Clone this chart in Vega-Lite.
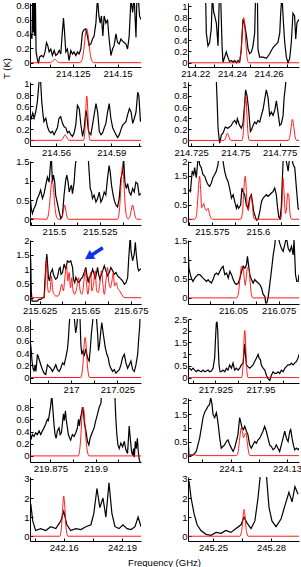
{
"$schema": "https://vega.github.io/schema/vega-lite/v6.json",
"padding": {"left": 1, "top": 0, "right": 2, "bottom": 0},
"background": "white",
"config": {
 "view": {"stroke": null},
 "axis": {"grid": false, "domainColor": "black", "tickColor": "black", "labelColor": "black", "labelFont": "Liberation Sans", "labelFontSize": 9.5, "tickSize": -3, "domainWidth": 1, "tickWidth": 1, "labelPadding": 4, "titleFont": "Liberation Sans", "titleFontSize": 9.5, "titleFontWeight": "normal", "titleColor": "black"},
 "axisX": {"labelFlush": false, "labelOverlap": false},
 "axisY": {"labelOverlap": false}
},
"datasets": {
"o1": [{"f":214.1011,"T":0.30},{"f":214.1017,"T":0.40},{"f":214.1022,"T":0.33},{"f":214.1026,"T":0.9},{"f":214.1030,"T":0.42},{"f":214.1034,"T":0.9},{"f":214.1037,"T":0.37},{"f":214.1041,"T":0.9},{"f":214.1045,"T":0.15},{"f":214.1052,"T":0.05},{"f":214.1058,"T":-0.01},{"f":214.1065,"T":0.08},{"f":214.1075,"T":0.10},{"f":214.1086,"T":0.08},{"f":214.1095,"T":0.15},{"f":214.1103,"T":0.28},{"f":214.1110,"T":0.24},{"f":214.1118,"T":0.15},{"f":214.1127,"T":0.19},{"f":214.1136,"T":0.10},{"f":214.1146,"T":0.17},{"f":214.1155,"T":0.10},{"f":214.1164,"T":0.12},{"f":214.1174,"T":0.17},{"f":214.1183,"T":0.12},{"f":214.1190,"T":0.37},{"f":214.1198,"T":0.62},{"f":214.1203,"T":0.46},{"f":214.1211,"T":0.15},{"f":214.1220,"T":0.19},{"f":214.1229,"T":0.03},{"f":214.1239,"T":0.17},{"f":214.1248,"T":0.12},{"f":214.1257,"T":0.15},{"f":214.1267,"T":0.10},{"f":214.1276,"T":0.15},{"f":214.1285,"T":0.12},{"f":214.1295,"T":0.19},{"f":214.1304,"T":0.42},{"f":214.1313,"T":0.46},{"f":214.1323,"T":0.47},{"f":214.1332,"T":0.37},{"f":214.1341,"T":0.24},{"f":214.1351,"T":0.26},{"f":214.1360,"T":0.33},{"f":214.1369,"T":0.37},{"f":214.1379,"T":0.55},{"f":214.1388,"T":0.9},{"f":214.1396,"T":0.65},{"f":214.1403,"T":0.55},{"f":214.1410,"T":0.65},{"f":214.1418,"T":0.37},{"f":214.1425,"T":0.65},{"f":214.1435,"T":0.55},{"f":214.1444,"T":0.6},{"f":214.1453,"T":0.33},{"f":214.1463,"T":0.10},{"f":214.1472,"T":0.19},{"f":214.1481,"T":0.24},{"f":214.1491,"T":0.40},{"f":214.1500,"T":0.28},{"f":214.1509,"T":0.26},{"f":214.1519,"T":0.33},{"f":214.1528,"T":0.30},{"f":214.1537,"T":0.28},{"f":214.1547,"T":0.26},{"f":214.1556,"T":0.19},{"f":214.1565,"T":0.37},{"f":214.1575,"T":0.9},{"f":214.1584,"T":0.7},{"f":214.1593,"T":0.9},{"f":214.1603,"T":0.35},{"f":214.1608,"T":0.9},{"f":214.1616,"T":0.9},{"f":214.1623,"T":0.65},{"f":214.1631,"T":0.6}],
"m1": [{"f":214.1011,"T":0},{"f":214.1125,"T":0},{"f":214.1131,"T":0.007},{"f":214.1140,"T":0.03},{"f":214.1149,"T":0.05},{"f":214.1158,"T":0.03},{"f":214.1167,"T":0.007},{"f":214.1175,"T":0},{"f":214.1290,"T":0},{"f":214.1298,"T":0.02},{"f":214.1304,"T":0.063},{"f":214.1310,"T":0.15},{"f":214.1316,"T":0.29},{"f":214.1322,"T":0.41},{"f":214.1328,"T":0.47},{"f":214.1334,"T":0.41},{"f":214.1340,"T":0.29},{"f":214.1346,"T":0.15},{"f":214.1352,"T":0.063},{"f":214.1358,"T":0.02},{"f":214.1366,"T":0},{"f":214.1631,"T":0}],
"o2": [{"f":214.2160,"T":1.5},{"f":214.2251,"T":1.5},{"f":214.2256,"T":1.2},{"f":214.2260,"T":0.53},{"f":214.2269,"T":0.30},{"f":214.2278,"T":0.36},{"f":214.2287,"T":0.60},{"f":214.2293,"T":1.2},{"f":214.2300,"T":0.9},{"f":214.2306,"T":0.83},{"f":214.2315,"T":0.70},{"f":214.2324,"T":0.30},{"f":214.2331,"T":1.2},{"f":214.2338,"T":1.2},{"f":214.2346,"T":0.30},{"f":214.2351,"T":0.01},{"f":214.2360,"T":0.10},{"f":214.2369,"T":0.19},{"f":214.2378,"T":0.10},{"f":214.2387,"T":0.02},{"f":214.2397,"T":0.04},{"f":214.2406,"T":0.01},{"f":214.2415,"T":0.04},{"f":214.2424,"T":0.0},{"f":214.2433,"T":0.04},{"f":214.2442,"T":0.01},{"f":214.2451,"T":0.24},{"f":214.2460,"T":0.77},{"f":214.2469,"T":0.68},{"f":214.2479,"T":0.48},{"f":214.2488,"T":0.24},{"f":214.2497,"T":0.16},{"f":214.2506,"T":0.19},{"f":214.2515,"T":0.30},{"f":214.2524,"T":0.53},{"f":214.2529,"T":1.2},{"f":214.2539,"T":1.2},{"f":214.2542,"T":0.24},{"f":214.2551,"T":0.10},{"f":214.2570,"T":0.10},{"f":214.2588,"T":0.08},{"f":214.2606,"T":0.16},{"f":214.2624,"T":0.27},{"f":214.2642,"T":0.33},{"f":214.2651,"T":0.36},{"f":214.2661,"T":0.53},{"f":214.2666,"T":0.88},{"f":214.2673,"T":1.2},{"f":214.2681,"T":0.71},{"f":214.2688,"T":0.36},{"f":214.2697,"T":0.10},{"f":214.2706,"T":0.0},{"f":214.2715,"T":0.07},{"f":214.2724,"T":0.36},{"f":214.2733,"T":0.88},{"f":214.2742,"T":0.83},{"f":214.2748,"T":0.42},{"f":214.2755,"T":0.71},{"f":214.2766,"T":0.77}],
"m2": [{"f":214.2160,"T":0},{"f":214.2437,"T":0},{"f":214.2446,"T":0.11},{"f":214.2451,"T":0.26},{"f":214.2455,"T":0.49},{"f":214.2460,"T":0.7},{"f":214.2464,"T":0.8},{"f":214.2469,"T":0.7},{"f":214.2473,"T":0.49},{"f":214.2478,"T":0.26},{"f":214.2482,"T":0.11},{"f":214.2491,"T":0},{"f":214.2766,"T":0}],
"o3": [{"f":214.5458,"T":0.45},{"f":214.5465,"T":0.39},{"f":214.5473,"T":0.48},{"f":214.5480,"T":0.39},{"f":214.5489,"T":0.5},{"f":214.5498,"T":0.68},{"f":214.5504,"T":0.91},{"f":214.5509,"T":1.1},{"f":214.5516,"T":1.03},{"f":214.5522,"T":0.68},{"f":214.5529,"T":0.45},{"f":214.5534,"T":0.33},{"f":214.5544,"T":0.39},{"f":214.5553,"T":0.24},{"f":214.5562,"T":0.16},{"f":214.5571,"T":0.13},{"f":214.5580,"T":0.16},{"f":214.5589,"T":0.1},{"f":214.5598,"T":0.16},{"f":214.5607,"T":0.22},{"f":214.5616,"T":0.39},{"f":214.5625,"T":0.42},{"f":214.5635,"T":0.3},{"f":214.5644,"T":0.24},{"f":214.5653,"T":0.22},{"f":214.5662,"T":0.13},{"f":214.5671,"T":0.16},{"f":214.5680,"T":0.1},{"f":214.5689,"T":0.07},{"f":214.5698,"T":0.13},{"f":214.5707,"T":0.27},{"f":214.5716,"T":0.62},{"f":214.5726,"T":0.56},{"f":214.5735,"T":0.27},{"f":214.5744,"T":0.07},{"f":214.5753,"T":0.22},{"f":214.5762,"T":0.53},{"f":214.5767,"T":0.45},{"f":214.5775,"T":0.19},{"f":214.5780,"T":0.13},{"f":214.5789,"T":0.1},{"f":214.5798,"T":0.27},{"f":214.5807,"T":0.45},{"f":214.5817,"T":0.65},{"f":214.5826,"T":0.5},{"f":214.5835,"T":0.16},{"f":214.5844,"T":0.1},{"f":214.5853,"T":0.13},{"f":214.5862,"T":0.22},{"f":214.5871,"T":0.3},{"f":214.5880,"T":0.5},{"f":214.5889,"T":0.65},{"f":214.5898,"T":0.39},{"f":214.5908,"T":0.22},{"f":214.5917,"T":0.16},{"f":214.5926,"T":0.1},{"f":214.5935,"T":0.05},{"f":214.5944,"T":0.1},{"f":214.5953,"T":0.19},{"f":214.5962,"T":0.27},{"f":214.5971,"T":0.3},{"f":214.5980,"T":0.33},{"f":214.5989,"T":0.45},{"f":214.5999,"T":0.56},{"f":214.6008,"T":0.5},{"f":214.6017,"T":0.3},{"f":214.6026,"T":0.39},{"f":214.6035,"T":0.5},{"f":214.6044,"T":0.85},{"f":214.6050,"T":0.8},{"f":214.6059,"T":0.33},{"f":214.6062,"T":0.39}],
"m3": [{"f":214.5458,"T":0},{"f":214.5625,"T":0},{"f":214.5633,"T":0.014},{"f":214.5641,"T":0.06},{"f":214.5645,"T":0.08},{"f":214.5649,"T":0.1},{"f":214.5653,"T":0.08},{"f":214.5657,"T":0.06},{"f":214.5665,"T":0.014},{"f":214.5673,"T":0},{"f":214.5749,"T":0},{"f":214.5755,"T":0.1},{"f":214.5758,"T":0.25},{"f":214.5761,"T":0.48},{"f":214.5764,"T":0.69},{"f":214.5767,"T":0.78},{"f":214.5770,"T":0.69},{"f":214.5773,"T":0.48},{"f":214.5776,"T":0.25},{"f":214.5779,"T":0.1},{"f":214.5785,"T":0},{"f":214.6062,"T":0}],
"o4": [{"f":214.7232,"T":1.5},{"f":214.7383,"T":1.5},{"f":214.7392,"T":1.1},{"f":214.7398,"T":0.6},{"f":214.7402,"T":0.22},{"f":214.7411,"T":-0.05},{"f":214.7421,"T":0.1},{"f":214.7430,"T":0.13},{"f":214.7443,"T":0.24},{"f":214.7458,"T":0.22},{"f":214.7477,"T":0.27},{"f":214.7487,"T":0.33},{"f":214.7496,"T":0.36},{"f":214.7506,"T":0.30},{"f":214.7511,"T":0.39},{"f":214.7524,"T":0.27},{"f":214.7534,"T":0.22},{"f":214.7543,"T":0.30},{"f":214.7553,"T":0.68},{"f":214.7558,"T":0.91},{"f":214.7566,"T":0.80},{"f":214.7575,"T":0.56},{"f":214.7585,"T":0.16},{"f":214.7591,"T":0.19},{"f":214.7600,"T":0.27},{"f":214.7609,"T":0.33},{"f":214.7619,"T":0.30},{"f":214.7628,"T":0.36},{"f":214.7638,"T":0.33},{"f":214.7647,"T":0.45},{"f":214.7657,"T":0.56},{"f":214.7666,"T":0.74},{"f":214.7675,"T":0.91},{"f":214.7685,"T":0.77},{"f":214.7694,"T":0.45},{"f":214.7704,"T":0.51},{"f":214.7713,"T":0.45},{"f":214.7722,"T":0.53},{"f":214.7732,"T":0.71},{"f":214.7741,"T":0.51},{"f":214.7751,"T":0.27},{"f":214.7760,"T":0.30},{"f":214.7770,"T":0.45},{"f":214.7775,"T":0.74},{"f":214.7783,"T":0.97},{"f":214.7789,"T":1.2},{"f":214.7860,"T":1.5}],
"m4": [{"f":214.7232,"T":0},{"f":214.7434,"T":0},{"f":214.7441,"T":0.02},{"f":214.7448,"T":0.08},{"f":214.7455,"T":0.13},{"f":214.7462,"T":0.08},{"f":214.7469,"T":0.02},{"f":214.7476,"T":0},{"f":214.7537,"T":0},{"f":214.7544,"T":0.11},{"f":214.75475,"T":0.26},{"f":214.7551,"T":0.49},{"f":214.75545,"T":0.7},{"f":214.7558,"T":0.8},{"f":214.75615,"T":0.7},{"f":214.7565,"T":0.49},{"f":214.75685,"T":0.26},{"f":214.7572,"T":0.11},{"f":214.7579,"T":0},{"f":214.7799,"T":0},{"f":214.7807,"T":0.05},{"f":214.7815,"T":0.23},{"f":214.7823,"T":0.38},{"f":214.7831,"T":0.23},{"f":214.7839,"T":0.05},{"f":214.7847,"T":0},{"f":214.7860,"T":0}],
"o5": [{"f":215.4869,"T":0.67},{"f":215.4876,"T":0.28},{"f":215.4882,"T":0.15},{"f":215.4891,"T":0.28},{"f":215.4900,"T":0.37},{"f":215.4909,"T":0.54},{"f":215.4918,"T":0.63},{"f":215.4927,"T":0.76},{"f":215.4937,"T":0.54},{"f":215.4946,"T":0.67},{"f":215.4955,"T":0.89},{"f":215.4964,"T":1.1},{"f":215.4973,"T":0.97},{"f":215.4982,"T":1.5},{"f":215.4986,"T":1.6},{"f":215.4991,"T":0.97},{"f":215.4997,"T":1.15},{"f":215.5004,"T":0.97},{"f":215.5009,"T":0.63},{"f":215.5019,"T":0.41},{"f":215.5028,"T":0.19},{"f":215.5037,"T":0.02},{"f":215.5046,"T":0.1},{"f":215.5055,"T":0.63},{"f":215.5064,"T":1.02},{"f":215.5070,"T":1.15},{"f":215.5077,"T":0.97},{"f":215.5083,"T":0.71},{"f":215.5088,"T":0.8},{"f":215.5095,"T":0.89},{"f":215.5101,"T":0.67},{"f":215.5110,"T":0.97},{"f":215.5115,"T":1.32},{"f":215.5119,"T":1.5},{"f":215.5124,"T":1.6},{"f":215.5187,"T":1.6},{"f":215.5192,"T":1.23},{"f":215.5198,"T":0.8},{"f":215.5205,"T":0.71},{"f":215.5210,"T":0.54},{"f":215.5219,"T":0.63},{"f":215.5229,"T":0.45},{"f":215.5238,"T":0.54},{"f":215.5247,"T":0.71},{"f":215.5256,"T":0.45},{"f":215.5265,"T":0.54},{"f":215.5274,"T":0.71},{"f":215.5283,"T":0.63},{"f":215.5292,"T":1.06},{"f":215.5301,"T":1.4},{"f":215.5307,"T":1.23},{"f":215.5314,"T":0.89},{"f":215.5323,"T":0.63},{"f":215.5329,"T":0.5},{"f":215.5338,"T":0.37},{"f":215.5347,"T":0.32},{"f":215.5356,"T":0.54},{"f":215.5365,"T":1.06},{"f":215.5374,"T":1.23},{"f":215.5380,"T":1.6},{"f":215.5387,"T":0.97},{"f":215.5395,"T":0.8},{"f":215.5402,"T":0.93},{"f":215.5411,"T":0.71},{"f":215.5420,"T":0.63},{"f":215.5429,"T":0.8},{"f":215.5438,"T":0.71},{"f":215.5447,"T":0.97},{"f":215.5456,"T":0.93},{"f":215.5465,"T":0.63},{"f":215.5475,"T":0.67}],
"m5": [{"f":215.4869,"T":0.02},{"f":215.4960,"T":0},{"f":215.4970,"T":0.14},{"f":215.4975,"T":0.33},{"f":215.4980,"T":0.62},{"f":215.4985,"T":0.9},{"f":215.4990,"T":1.02},{"f":215.4995,"T":0.9},{"f":215.5000,"T":0.62},{"f":215.5005,"T":0.33},{"f":215.5010,"T":0.14},{"f":215.5020,"T":0.01},{"f":215.5037,"T":0},{"f":215.5044,"T":0.05},{"f":215.5051,"T":0.22},{"f":215.5058,"T":0.37},{"f":215.5065,"T":0.22},{"f":215.5072,"T":0.05},{"f":215.5079,"T":0},{"f":215.5347,"T":0},{"f":215.5356,"T":0.19},{"f":215.53605,"T":0.45},{"f":215.5365,"T":0.84},{"f":215.53695,"T":1.2},{"f":215.5374,"T":1.37},{"f":215.53785,"T":1.2},{"f":215.5383,"T":0.84},{"f":215.53875,"T":0.45},{"f":215.5392,"T":0.19},{"f":215.5401,"T":0.02},{"f":215.5405,"T":0.01},{"f":215.5413,"T":0.05},{"f":215.5421,"T":0.22},{"f":215.5429,"T":0.37},{"f":215.5437,"T":0.22},{"f":215.5445,"T":0.05},{"f":215.5453,"T":0},{"f":215.5475,"T":0}],
"o6": [{"f":215.5620,"T":0.96},{"f":215.5625,"T":1.02},{"f":215.5633,"T":0.96},{"f":215.5638,"T":1.32},{"f":215.5643,"T":1.67},{"f":215.5651,"T":1.55},{"f":215.5656,"T":1.79},{"f":215.5665,"T":1.44},{"f":215.5674,"T":2.08},{"f":215.5678,"T":2.2},{"f":215.5683,"T":1.9},{"f":215.5692,"T":1.79},{"f":215.5701,"T":1.55},{"f":215.5711,"T":1.49},{"f":215.5720,"T":1.32},{"f":215.5729,"T":1.2},{"f":215.5738,"T":1.14},{"f":215.5747,"T":1.26},{"f":215.5755,"T":1.44},{"f":215.5765,"T":1.55},{"f":215.5774,"T":1.67},{"f":215.5783,"T":1.9},{"f":215.5788,"T":2.2},{"f":215.5801,"T":2.2},{"f":215.5810,"T":2.02},{"f":215.5819,"T":1.67},{"f":215.5828,"T":1.44},{"f":215.5837,"T":1.32},{"f":215.5846,"T":1.08},{"f":215.5856,"T":0.73},{"f":215.5865,"T":0.85},{"f":215.5874,"T":0.61},{"f":215.5883,"T":0.38},{"f":215.5888,"T":0.49},{"f":215.5895,"T":0.38},{"f":215.5901,"T":0.44},{"f":215.5906,"T":0.49},{"f":215.5913,"T":1.08},{"f":215.5919,"T":0.96},{"f":215.5928,"T":0.85},{"f":215.5937,"T":0.49},{"f":215.5946,"T":0.38},{"f":215.5955,"T":0.73},{"f":215.5964,"T":0.85},{"f":215.5970,"T":0.61},{"f":215.5977,"T":0.26},{"f":215.5986,"T":0.08},{"f":215.5993,"T":-0.04},{"f":215.6001,"T":0},{"f":215.6010,"T":0.26},{"f":215.6019,"T":0.61},{"f":215.6028,"T":0.73},{"f":215.6037,"T":0.79},{"f":215.6046,"T":0.85},{"f":215.6055,"T":0.79},{"f":215.6064,"T":0.85},{"f":215.6073,"T":0.91},{"f":215.6082,"T":0.96},{"f":215.6091,"T":1.08},{"f":215.6100,"T":0.85},{"f":215.6105,"T":0.49},{"f":215.6113,"T":0.08},{"f":215.6120,"T":0.02},{"f":215.6127,"T":0.44},{"f":215.6132,"T":1.32},{"f":215.6138,"T":2.2},{"f":215.6145,"T":2.2},{"f":215.6154,"T":2.02},{"f":215.6164,"T":1.67},{"f":215.6173,"T":2.2},{"f":215.6182,"T":2.2},{"f":215.6191,"T":1.9},{"f":215.6200,"T":1.79},{"f":215.6209,"T":1.08},{"f":215.6218,"T":0.38},{"f":215.6223,"T":0.32}],
"m6": [{"f":215.5620,"T":0},{"f":215.5656,"T":0},{"f":215.5665,"T":0.1},{"f":215.5672,"T":0.6},{"f":215.5678,"T":1.2},{"f":215.5683,"T":1.49},{"f":215.5689,"T":1.0},{"f":215.5694,"T":0.4},{"f":215.5700,"T":0.45},{"f":215.5705,"T":0.55},{"f":215.5711,"T":0.4},{"f":215.5720,"T":0.3},{"f":215.5729,"T":0.38},{"f":215.5738,"T":0.15},{"f":215.5747,"T":0.02},{"f":215.5755,"T":0},{"f":215.5906,"T":0},{"f":215.5917,"T":0.3},{"f":215.5924,"T":1.1},{"f":215.5931,"T":1.49},{"f":215.5937,"T":1.0},{"f":215.5942,"T":0.4},{"f":215.5948,"T":0.3},{"f":215.5955,"T":0.6},{"f":215.5962,"T":0.85},{"f":215.5968,"T":0.6},{"f":215.5975,"T":0.15},{"f":215.5982,"T":0},{"f":215.6124,"T":0},{"f":215.6131,"T":0.6},{"f":215.6136,"T":1.43},{"f":215.6142,"T":0.9},{"f":215.6149,"T":0.2},{"f":215.6154,"T":0.3},{"f":215.6162,"T":0.9},{"f":215.6167,"T":0.85},{"f":215.6174,"T":0.2},{"f":215.6182,"T":0},{"f":215.6223,"T":0}],
"o7": [{"f":215.6197,"T":1.65},{"f":215.6201,"T":1.29},{"f":215.6204,"T":0.24},{"f":215.6208,"T":-0.12},{"f":215.6219,"T":-0.12},{"f":215.6237,"T":-0.12},{"f":215.6246,"T":-0.06},{"f":215.6256,"T":-0.06},{"f":215.6265,"T":0},{"f":215.6274,"T":0},{"f":215.6279,"T":0.59},{"f":215.6285,"T":1.24},{"f":215.6289,"T":1.53},{"f":215.6292,"T":1.29},{"f":215.6298,"T":0.71},{"f":215.6303,"T":0.59},{"f":215.6311,"T":0.88},{"f":215.6320,"T":1.0},{"f":215.6325,"T":0.82},{"f":215.6333,"T":0.71},{"f":215.6338,"T":0.65},{"f":215.6347,"T":0.71},{"f":215.6356,"T":1.0},{"f":215.6362,"T":1.06},{"f":215.6367,"T":0.82},{"f":215.6375,"T":0.88},{"f":215.6384,"T":1.18},{"f":215.6393,"T":1.0},{"f":215.6402,"T":1.29},{"f":215.6411,"T":1.24},{"f":215.6420,"T":1.29},{"f":215.6430,"T":1.06},{"f":215.6435,"T":0.65},{"f":215.6442,"T":0.53},{"f":215.6448,"T":0.71},{"f":215.6457,"T":0.59},{"f":215.6466,"T":0.53},{"f":215.6475,"T":0.65},{"f":215.6484,"T":0.71},{"f":215.6494,"T":0.88},{"f":215.6503,"T":1.06},{"f":215.6508,"T":0.82},{"f":215.6516,"T":0.53},{"f":215.6521,"T":0.71},{"f":215.6530,"T":0.76},{"f":215.6540,"T":1.0},{"f":215.6549,"T":0.82},{"f":215.6554,"T":0.65},{"f":215.6562,"T":0.88},{"f":215.6567,"T":1.06},{"f":215.6573,"T":0.82},{"f":215.6580,"T":0.65},{"f":215.6585,"T":0.76},{"f":215.6595,"T":0.94},{"f":215.6604,"T":1.12},{"f":215.6613,"T":0.94},{"f":215.6622,"T":0.76},{"f":215.6631,"T":0.88},{"f":215.6640,"T":1.06},{"f":215.6650,"T":0.94},{"f":215.6659,"T":0.82},{"f":215.6668,"T":0.88},{"f":215.6677,"T":0.76},{"f":215.6686,"T":0.71},{"f":215.6695,"T":0.65},{"f":215.6704,"T":0.59},{"f":215.6714,"T":0.47},{"f":215.6723,"T":0.53},{"f":215.6732,"T":0.71},{"f":215.6737,"T":1.29},{"f":215.6743,"T":1.88},{"f":215.6746,"T":2.2},{"f":215.6750,"T":1.65},{"f":215.6759,"T":1.29},{"f":215.6768,"T":1.53},{"f":215.6774,"T":1.94},{"f":215.6779,"T":1.53},{"f":215.6787,"T":1.06},{"f":215.6792,"T":0.94},{"f":215.6801,"T":1.0},{"f":215.6805,"T":1.0}],
"m7": [{"f":215.6197,"T":0},{"f":215.6274,"T":0},{"f":215.6279,"T":0.35},{"f":215.6287,"T":1.35},{"f":215.6294,"T":0.35},{"f":215.6300,"T":0.18},{"f":215.6307,"T":0.24},{"f":215.6314,"T":0.76},{"f":215.6322,"T":0.24},{"f":215.6329,"T":0.12},{"f":215.6338,"T":0.06},{"f":215.6351,"T":0.06},{"f":215.6362,"T":0.24},{"f":215.6371,"T":0.47},{"f":215.6380,"T":0.24},{"f":215.6388,"T":0.7},{"f":215.6397,"T":1.12},{"f":215.6404,"T":0.59},{"f":215.6411,"T":0.88},{"f":215.6419,"T":0.35},{"f":215.6426,"T":0.7},{"f":215.6433,"T":0.24},{"f":215.6442,"T":0.12},{"f":215.6453,"T":0.35},{"f":215.6463,"T":0.7},{"f":215.6472,"T":0.24},{"f":215.6481,"T":0.12},{"f":215.6490,"T":0.41},{"f":215.6499,"T":1.0},{"f":215.6507,"T":0.47},{"f":215.6514,"T":0.12},{"f":215.6521,"T":0.47},{"f":215.6529,"T":0.88},{"f":215.6536,"T":0.24},{"f":215.6545,"T":0.47},{"f":215.6554,"T":0.94},{"f":215.6562,"T":0.24},{"f":215.6571,"T":0.18},{"f":215.6580,"T":0.53},{"f":215.6589,"T":0.94},{"f":215.6596,"T":0.47},{"f":215.6604,"T":0.12},{"f":215.6613,"T":0.59},{"f":215.6622,"T":1.06},{"f":215.6629,"T":0.53},{"f":215.6637,"T":0.35},{"f":215.6646,"T":0.59},{"f":215.6653,"T":0.88},{"f":215.6660,"T":0.41},{"f":215.6670,"T":0.53},{"f":215.6677,"T":0.35},{"f":215.6688,"T":0.24},{"f":215.6699,"T":0.12},{"f":215.6710,"T":0.02},{"f":215.6723,"T":0},{"f":215.6805,"T":0}],
"o8": [{"f":216.0254,"T":1.48},{"f":216.0259,"T":0.78},{"f":216.0265,"T":0.65},{"f":216.0272,"T":0.52},{"f":216.0281,"T":0.43},{"f":216.0291,"T":0.52},{"f":216.0300,"T":0.57},{"f":216.0309,"T":0.61},{"f":216.0318,"T":0.61},{"f":216.0327,"T":0.57},{"f":216.0336,"T":0.52},{"f":216.0345,"T":0.48},{"f":216.0355,"T":0.43},{"f":216.0364,"T":0.48},{"f":216.0373,"T":0.43},{"f":216.0382,"T":0.39},{"f":216.0391,"T":0.48},{"f":216.0400,"T":0.61},{"f":216.0410,"T":0.65},{"f":216.0419,"T":0.61},{"f":216.0428,"T":0.7},{"f":216.0437,"T":0.78},{"f":216.0446,"T":0.83},{"f":216.0455,"T":0.61},{"f":216.0465,"T":0.65},{"f":216.0474,"T":0.52},{"f":216.0483,"T":0.7},{"f":216.0492,"T":0.61},{"f":216.0501,"T":0.48},{"f":216.0510,"T":0.39},{"f":216.0519,"T":0.35},{"f":216.0529,"T":0.39},{"f":216.0538,"T":0.52},{"f":216.0547,"T":0.7},{"f":216.0556,"T":0.83},{"f":216.0565,"T":0.78},{"f":216.0574,"T":0.87},{"f":216.0579,"T":1.09},{"f":216.0585,"T":0.87},{"f":216.0592,"T":0.61},{"f":216.0601,"T":0.48},{"f":216.0610,"T":0.39},{"f":216.0619,"T":0.48},{"f":216.0629,"T":0.43},{"f":216.0638,"T":0.39},{"f":216.0647,"T":0.35},{"f":216.0656,"T":0.26},{"f":216.0665,"T":0.09},{"f":216.0674,"T":0.04},{"f":216.0679,"T":-0.13},{"f":216.0685,"T":-0.13},{"f":216.0692,"T":0},{"f":216.0701,"T":0.35},{"f":216.0710,"T":0.7},{"f":216.0720,"T":1.13},{"f":216.0729,"T":1.39},{"f":216.0732,"T":1.6},{"f":216.0747,"T":1.6},{"f":216.0756,"T":1.43},{"f":216.0765,"T":1.3},{"f":216.0774,"T":1.22},{"f":216.0783,"T":1.39},{"f":216.0792,"T":1.6},{"f":216.0802,"T":1.3},{"f":216.0811,"T":1.22},{"f":216.0820,"T":1.35},{"f":216.0829,"T":1.13},{"f":216.0834,"T":1.52},{"f":216.0842,"T":0.61},{"f":216.0849,"T":0.43},{"f":216.0856,"T":0.43},{"f":216.0861,"T":0.61}],
"m8": [{"f":216.0254,"T":0},{"f":216.0519,"T":0},{"f":216.0529,"T":0.1},{"f":216.0538,"T":0.5},{"f":216.0547,"T":0.83},{"f":216.0555,"T":0.8},{"f":216.0562,"T":0.5},{"f":216.0567,"T":0.33},{"f":216.0572,"T":0.5},{"f":216.0579,"T":0.8},{"f":216.0587,"T":0.78},{"f":216.0594,"T":0.4},{"f":216.0601,"T":0.08},{"f":216.0610,"T":0},{"f":216.0861,"T":0}],
"o9": [{"f":216.9779,"T":0.61},{"f":216.9784,"T":0.5},{"f":216.9790,"T":0.27},{"f":216.9795,"T":0.15},{"f":216.9801,"T":0.1},{"f":216.9806,"T":0.21},{"f":216.9811,"T":0.1},{"f":216.9819,"T":0.38},{"f":216.9828,"T":0.3},{"f":216.9837,"T":0.21},{"f":216.9846,"T":0.13},{"f":216.9855,"T":0.07},{"f":216.9864,"T":0.05},{"f":216.9873,"T":0.21},{"f":216.9882,"T":0.18},{"f":216.9891,"T":0.15},{"f":216.9900,"T":0.1},{"f":216.9909,"T":0.15},{"f":216.9918,"T":0.21},{"f":216.9927,"T":0.13},{"f":216.9936,"T":0.1},{"f":216.9945,"T":0.15},{"f":216.9954,"T":0.24},{"f":216.9963,"T":0.21},{"f":216.9972,"T":0.33},{"f":216.9981,"T":0.47},{"f":216.9986,"T":0.64},{"f":216.9991,"T":0.9},{"f":216.9997,"T":1.1},{"f":217.0013,"T":1.1},{"f":217.0020,"T":0.9},{"f":217.0025,"T":0.73},{"f":217.0031,"T":0.84},{"f":217.0038,"T":1.1},{"f":217.0047,"T":1.1},{"f":217.0053,"T":0.55},{"f":217.0058,"T":0.38},{"f":217.0065,"T":0.44},{"f":217.0071,"T":0.35},{"f":217.0080,"T":0.47},{"f":217.0085,"T":0.38},{"f":217.0092,"T":0.3},{"f":217.0098,"T":0.27},{"f":217.0103,"T":0.44},{"f":217.0107,"T":0.61},{"f":217.0110,"T":0.73},{"f":217.0116,"T":0.9},{"f":217.0121,"T":1.1},{"f":217.0134,"T":1.1},{"f":217.0143,"T":0.73},{"f":217.0148,"T":0.44},{"f":217.0154,"T":0.55},{"f":217.0161,"T":0.78},{"f":217.0166,"T":0.9},{"f":217.0173,"T":0.73},{"f":217.0179,"T":0.61},{"f":217.0184,"T":0.5},{"f":217.0193,"T":0.38},{"f":217.0200,"T":0.33},{"f":217.0207,"T":0.21},{"f":217.0215,"T":0.15},{"f":217.0224,"T":0.1},{"f":217.0233,"T":0.13},{"f":217.0242,"T":0.07},{"f":217.0251,"T":0.1},{"f":217.0260,"T":0.13},{"f":217.0269,"T":0.21},{"f":217.0278,"T":0.33},{"f":217.0287,"T":0.38},{"f":217.0296,"T":0.24},{"f":217.0305,"T":0.15},{"f":217.0314,"T":0.21},{"f":217.0323,"T":0.27},{"f":217.0332,"T":0.13},{"f":217.0341,"T":0.1},{"f":217.0350,"T":0.21},{"f":217.0359,"T":0.38},{"f":217.0364,"T":0.61},{"f":217.0370,"T":0.84},{"f":217.0373,"T":1.1},{"f":217.0377,"T":1.1}],
"m9": [{"f":216.9779,"T":0},{"f":217.0052,"T":0},{"f":217.0060,"T":0.09},{"f":217.0064,"T":0.21},{"f":217.0068,"T":0.4},{"f":217.0072,"T":0.58},{"f":217.0076,"T":0.66},{"f":217.0080,"T":0.58},{"f":217.0084,"T":0.4},{"f":217.0088,"T":0.21},{"f":217.0092,"T":0.09},{"f":217.0100,"T":0},{"f":217.0377,"T":0}],
"o10": [{"f":217.9098,"T":0.4},{"f":217.9107,"T":0.4},{"f":217.9117,"T":0.32},{"f":217.9126,"T":0.4},{"f":217.9135,"T":0.32},{"f":217.9144,"T":0.25},{"f":217.9154,"T":0.32},{"f":217.9163,"T":0.28},{"f":217.9172,"T":0.25},{"f":217.9181,"T":0.32},{"f":217.9191,"T":0.25},{"f":217.9200,"T":0.28},{"f":217.9209,"T":0.32},{"f":217.9218,"T":0.25},{"f":217.9228,"T":0.28},{"f":217.9237,"T":0.4},{"f":217.9246,"T":0.84},{"f":217.9250,"T":1.57},{"f":217.9255,"T":2.31},{"f":217.9259,"T":2.38},{"f":217.9263,"T":2.0},{"f":217.9266,"T":1.28},{"f":217.9270,"T":0.54},{"f":217.9276,"T":0.25},{"f":217.9283,"T":0.25},{"f":217.9292,"T":0.32},{"f":217.9302,"T":0.25},{"f":217.9311,"T":0.4},{"f":217.9320,"T":0.32},{"f":217.9329,"T":0.54},{"f":217.9339,"T":0.4},{"f":217.9348,"T":0.62},{"f":217.9357,"T":0.32},{"f":217.9366,"T":0.4},{"f":217.9376,"T":0.32},{"f":217.9385,"T":0.4},{"f":217.9394,"T":0.54},{"f":217.9404,"T":0.62},{"f":217.9409,"T":1.06},{"f":217.9413,"T":1.43},{"f":217.9417,"T":0.99},{"f":217.9422,"T":0.54},{"f":217.9431,"T":0.47},{"f":217.9441,"T":0.4},{"f":217.9450,"T":0.47},{"f":217.9459,"T":0.54},{"f":217.9468,"T":0.69},{"f":217.9478,"T":0.84},{"f":217.9487,"T":0.99},{"f":217.9492,"T":0.84},{"f":217.9500,"T":0.76},{"f":217.9505,"T":0.54},{"f":217.9515,"T":0.4},{"f":217.9524,"T":0.32},{"f":217.9533,"T":0.1},{"f":217.9542,"T":-0.04},{"f":217.9552,"T":-0.12},{"f":217.9561,"T":0.1},{"f":217.9570,"T":0.25},{"f":217.9579,"T":0.18},{"f":217.9589,"T":0.18},{"f":217.9598,"T":0.25},{"f":217.9607,"T":0.18},{"f":217.9616,"T":0.32},{"f":217.9626,"T":0.25},{"f":217.9635,"T":0.4},{"f":217.9644,"T":0.47},{"f":217.9653,"T":0.54},{"f":217.9663,"T":0.54},{"f":217.9672,"T":0.62},{"f":217.9681,"T":0.54},{"f":217.9690,"T":0.62},{"f":217.9700,"T":0.69},{"f":217.9709,"T":0.84},{"f":217.9714,"T":0.99}],
"m10": [{"f":217.9098,"T":0},{"f":217.9395,"T":0},{"f":217.9401,"T":0.27},{"f":217.9404,"T":0.65},{"f":217.9407,"T":1.22},{"f":217.9410,"T":1.77},{"f":217.9413,"T":2.01},{"f":217.9416,"T":1.77},{"f":217.9419,"T":1.22},{"f":217.9422,"T":0.65},{"f":217.9425,"T":0.27},{"f":217.9431,"T":0},{"f":217.9714,"T":0}],
"o11": [{"f":219.8638,"T":0.35},{"f":219.8645,"T":0.29},{"f":219.8651,"T":0.35},{"f":219.8660,"T":0.32},{"f":219.8669,"T":0.38},{"f":219.8678,"T":0.35},{"f":219.8688,"T":0.41},{"f":219.8697,"T":0.35},{"f":219.8706,"T":0.41},{"f":219.8715,"T":0.46},{"f":219.8724,"T":0.52},{"f":219.8734,"T":0.6},{"f":219.8739,"T":0.58},{"f":219.8745,"T":0.69},{"f":219.8752,"T":0.83},{"f":219.8758,"T":1.0},{"f":219.8763,"T":0.8},{"f":219.8770,"T":0.52},{"f":219.8776,"T":0.35},{"f":219.8782,"T":0.29},{"f":219.8789,"T":0.41},{"f":219.8798,"T":0.46},{"f":219.8804,"T":0.35},{"f":219.8811,"T":0.38},{"f":219.8816,"T":0.52},{"f":219.8822,"T":0.69},{"f":219.8827,"T":0.58},{"f":219.8833,"T":0.74},{"f":219.8838,"T":0.58},{"f":219.8844,"T":0.46},{"f":219.8849,"T":0.35},{"f":219.8857,"T":0.29},{"f":219.8862,"T":0.26},{"f":219.8871,"T":0.35},{"f":219.8881,"T":0.32},{"f":219.8890,"T":0.38},{"f":219.8899,"T":0.46},{"f":219.8905,"T":0.6},{"f":219.8910,"T":0.49},{"f":219.8916,"T":0.63},{"f":219.8921,"T":0.69},{"f":219.8927,"T":0.8},{"f":219.8932,"T":0.74},{"f":219.8938,"T":0.52},{"f":219.8943,"T":0.46},{"f":219.8949,"T":0.35},{"f":219.8954,"T":0.24},{"f":219.8962,"T":0.18},{"f":219.8969,"T":0.29},{"f":219.8976,"T":0.35},{"f":219.8984,"T":0.41},{"f":219.8991,"T":0.46},{"f":219.9000,"T":0.58},{"f":219.9010,"T":0.69},{"f":219.9019,"T":0.8},{"f":219.9028,"T":0.86},{"f":219.9037,"T":1.2},{"f":219.9102,"T":1.2},{"f":219.9111,"T":0.58},{"f":219.9116,"T":0.35},{"f":219.9122,"T":0.18},{"f":219.9129,"T":0.12},{"f":219.9138,"T":0.21},{"f":219.9148,"T":0.15},{"f":219.9157,"T":0.24},{"f":219.9166,"T":0.1},{"f":219.9175,"T":0.04},{"f":219.9184,"T":0.49},{"f":219.9190,"T":0.29},{"f":219.9197,"T":0.07},{"f":219.9203,"T":0.01},{"f":219.9208,"T":0.12},{"f":219.9212,"T":-0.02},{"f":219.9218,"T":0.24},{"f":219.9223,"T":0.12},{"f":219.9229,"T":0.29},{"f":219.9234,"T":0.07},{"f":219.9240,"T":-0.07},{"f":219.9249,"T":-0.13}],
"m11": [{"f":219.8638,"T":0},{"f":219.8903,"T":0},{"f":219.8912,"T":0.11},{"f":219.89165,"T":0.26},{"f":219.8921,"T":0.49},{"f":219.89255,"T":0.7},{"f":219.8930,"T":0.8},{"f":219.8936,"T":0.7},{"f":219.8941,"T":0.49},{"f":219.89465,"T":0.26},{"f":219.8952,"T":0.11},{"f":219.8963,"T":0},{"f":219.9249,"T":0}],
"o12": [{"f":224.0773,"T":0.76},{"f":224.0778,"T":0.02},{"f":224.0787,"T":0.02},{"f":224.0800,"T":0.02},{"f":224.0809,"T":0.09},{"f":224.0817,"T":0.15},{"f":224.0826,"T":0.39},{"f":224.0835,"T":0.63},{"f":224.0844,"T":1.0},{"f":224.0853,"T":1.37},{"f":224.0858,"T":1.49},{"f":224.0865,"T":1.61},{"f":224.0871,"T":1.67},{"f":224.0880,"T":1.79},{"f":224.0888,"T":1.85},{"f":224.0894,"T":2.1},{"f":224.0901,"T":1.85},{"f":224.0906,"T":1.49},{"f":224.0915,"T":1.37},{"f":224.0924,"T":1.55},{"f":224.0929,"T":1.37},{"f":224.0936,"T":1.0},{"f":224.0942,"T":0.63},{"f":224.0950,"T":0.27},{"f":224.0959,"T":0.33},{"f":224.0968,"T":0.39},{"f":224.0977,"T":0.51},{"f":224.0986,"T":0.57},{"f":224.0995,"T":0.39},{"f":224.1004,"T":0.27},{"f":224.1013,"T":0.15},{"f":224.1021,"T":0.27},{"f":224.1030,"T":0.51},{"f":224.1039,"T":0.76},{"f":224.1048,"T":1.37},{"f":224.1053,"T":1.24},{"f":224.1061,"T":1.0},{"f":224.1068,"T":0.94},{"f":224.1075,"T":1.06},{"f":224.1084,"T":0.88},{"f":224.1092,"T":0.76},{"f":224.1101,"T":0.39},{"f":224.1110,"T":0.27},{"f":224.1119,"T":0.39},{"f":224.1128,"T":0.51},{"f":224.1137,"T":0.45},{"f":224.1146,"T":0.57},{"f":224.1155,"T":0.63},{"f":224.1164,"T":0.76},{"f":224.1172,"T":0.88},{"f":224.1181,"T":1.06},{"f":224.1190,"T":0.88},{"f":224.1199,"T":0.63},{"f":224.1208,"T":0.39},{"f":224.1217,"T":0.33},{"f":224.1226,"T":0.21},{"f":224.1235,"T":0.27},{"f":224.1243,"T":0.39},{"f":224.1252,"T":0.27},{"f":224.1261,"T":0.15},{"f":224.1270,"T":0.39},{"f":224.1279,"T":0.63},{"f":224.1288,"T":0.88},{"f":224.1297,"T":0.63},{"f":224.1306,"T":0.51},{"f":224.1315,"T":0.88},{"f":224.1320,"T":0.94},{"f":224.1327,"T":0.63},{"f":224.1334,"T":0.39},{"f":224.1341,"T":0.21},{"f":224.1350,"T":0.27},{"f":224.1359,"T":0.21},{"f":224.1364,"T":0.27}],
"m12": [{"f":224.0773,"T":0.02},{"f":224.0800,"T":0.04},{"f":224.0830,"T":0},{"f":224.1030,"T":0},{"f":224.1039,"T":0.1},{"f":224.1048,"T":0.6},{"f":224.1057,"T":1.0},{"f":224.1064,"T":0.8},{"f":224.1069,"T":0.65},{"f":224.1077,"T":0.8},{"f":224.1082,"T":0.8},{"f":224.1089,"T":0.45},{"f":224.1096,"T":0.12},{"f":224.1103,"T":0},{"f":224.1364,"T":0}],
"o13": [{"f":242.1430,"T":1.7},{"f":242.1440,"T":0.8},{"f":242.1455,"T":0.3},{"f":242.1481,"T":0.4},{"f":242.1507,"T":0.3},{"f":242.1533,"T":0.5},{"f":242.1559,"T":0.4},{"f":242.1585,"T":0.8},{"f":242.1600,"T":1.3},{"f":242.1616,"T":0.6},{"f":242.1636,"T":0.3},{"f":242.1662,"T":0.4},{"f":242.1688,"T":0.35},{"f":242.1714,"T":0.5},{"f":242.1740,"T":0.6},{"f":242.1755,"T":1.2},{"f":242.1771,"T":2.5},{"f":242.1786,"T":1.5},{"f":242.1802,"T":2.0},{"f":242.1817,"T":1.0},{"f":242.1833,"T":2.8},{"f":242.1848,"T":1.2},{"f":242.1864,"T":0.5},{"f":242.1885,"T":0.4},{"f":242.1905,"T":0.6},{"f":242.1926,"T":0.4},{"f":242.1947,"T":0.35},{"f":242.1967,"T":0.5},{"f":242.1983,"T":1.0},{"f":242.1998,"T":0.5}],
"m13": [{"f":242.1426,"T":0},{"f":242.1579,"T":0},{"f":242.1586,"T":0.28},{"f":242.1590,"T":0.68},{"f":242.1593,"T":1.28},{"f":242.1597,"T":1.85},{"f":242.1600,"T":2.1},{"f":242.1603,"T":1.85},{"f":242.1607,"T":1.28},{"f":242.1610,"T":0.68},{"f":242.1614,"T":0.28},{"f":242.1621,"T":0},{"f":242.1998,"T":0}],
"o14": [{"f":245.2376,"T":2.9},{"f":245.2387,"T":2.0},{"f":245.2402,"T":1.2},{"f":245.2418,"T":0.6},{"f":245.2438,"T":0.3},{"f":245.2464,"T":0.1},{"f":245.2490,"T":0.05},{"f":245.2516,"T":0.2},{"f":245.2542,"T":0.15},{"f":245.2567,"T":0.3},{"f":245.2593,"T":0.2},{"f":245.2619,"T":0.4},{"f":245.2645,"T":0.6},{"f":245.2661,"T":1.0},{"f":245.2676,"T":0.7},{"f":245.2697,"T":0.4},{"f":245.2717,"T":0.8},{"f":245.2733,"T":2.0},{"f":245.2748,"T":3.5},{"f":245.2774,"T":3.5},{"f":245.2790,"T":1.5},{"f":245.2805,"T":0.8},{"f":245.2826,"T":0.5},{"f":245.2852,"T":0.9},{"f":245.2872,"T":1.6},{"f":245.2893,"T":2.3},{"f":245.2909,"T":1.8},{"f":245.2924,"T":2.6},{"f":245.2940,"T":2.2}],
"m14": [{"f":245.2371,"T":0},{"f":245.2640,"T":0},{"f":245.2647,"T":0.19},{"f":245.2651,"T":0.45},{"f":245.2654,"T":0.85},{"f":245.2658,"T":1.23},{"f":245.2661,"T":1.4},{"f":245.2664,"T":1.23},{"f":245.2668,"T":0.85},{"f":245.2671,"T":0.45},{"f":245.2675,"T":0.19},{"f":245.2682,"T":0},{"f":245.2945,"T":0}],
"arrowShaft": [{"f":215.6596,"T":1.75,"f2":215.6525,"T2":1.45}],
"arrowHead": [{"f":215.6519,"T":1.43}]
},
"columns": 2,
"spacing": {"row": 15, "column": 47},
"bounds": "flush",
"concat": [
{"width":111,"height":64,
 "encoding":{"x":{"field":"f","type":"quantitative","scale":{"domain":[214.1011,214.1631],"nice":false,"zero":false},"axis":{"values":[214.1125,214.125,214.1375,214.15],"labelExpr":"indexof([214.125,214.15], datum.value) >= 0 ? datum.label : ''","format":".6~g","title":null}},
  "y":{"field":"T","type":"quantitative","scale":{"domain":[-0.06,0.83],"nice":false,"zero":false},"axis":{"values":[0,0.2,0.4,0.6,0.8],"format":"~g","title":"T (K)","titleX":-24,"titleY":65,"titleBaseline":"middle","titleAlign":"center","titleAngle":-90}}},
 "layer":[{"data":{"name":"o1"},"mark":{"type":"line","color":"black","strokeWidth":1.2,"clip":true}},{"data":{"name":"m1"},"mark":{"type":"line","color":"red","strokeWidth":0.9,"clip":true,"interpolate":"monotone"}}]},
{"width":111,"height":64,
 "encoding":{"x":{"field":"f","type":"quantitative","scale":{"domain":[214.216,214.2766],"nice":false,"zero":false},"axis":{"values":[214.22,214.23,214.24,214.25,214.26,214.27],"labelExpr":"indexof([214.22,214.24,214.26], datum.value) >= 0 ? datum.label : ''","format":".6~g","title":null}},
  "y":{"field":"T","type":"quantitative","scale":{"domain":[-0.075,1.06],"nice":false,"zero":false},"axis":{"values":[0,0.2,0.4,0.6,0.8,1],"format":"~g","title":null}}},
 "layer":[{"data":{"name":"o2"},"mark":{"type":"line","color":"black","strokeWidth":1.2,"clip":true}},{"data":{"name":"m2"},"mark":{"type":"line","color":"red","strokeWidth":0.9,"clip":true,"interpolate":"monotone"}}]},
{"width":111,"height":64,
 "encoding":{"x":{"field":"f","type":"quantitative","scale":{"domain":[214.5458,214.6062],"nice":false,"zero":false},"axis":{"values":[214.56,214.575,214.59,214.605],"labelExpr":"indexof([214.56,214.59], datum.value) >= 0 ? datum.label : ''","format":".6~g","title":null}},
  "y":{"field":"T","type":"quantitative","scale":{"domain":[-0.1,1.03],"nice":false,"zero":false},"axis":{"values":[0,0.2,0.4,0.6,0.8,1],"format":"~g","title":null}}},
 "layer":[{"data":{"name":"o3"},"mark":{"type":"line","color":"black","strokeWidth":1.2,"clip":true}},{"data":{"name":"m3"},"mark":{"type":"line","color":"red","strokeWidth":0.9,"clip":true,"interpolate":"monotone"}}]},
{"width":111,"height":64,
 "encoding":{"x":{"field":"f","type":"quantitative","scale":{"domain":[214.7232,214.786],"nice":false,"zero":false},"axis":{"values":[214.725,214.7375,214.75,214.7625,214.775],"labelExpr":"indexof([214.725,214.75,214.775], datum.value) >= 0 ? datum.label : ''","format":".6~g","title":null}},
  "y":{"field":"T","type":"quantitative","scale":{"domain":[-0.1,1.05],"nice":false,"zero":false},"axis":{"values":[0,0.2,0.4,0.6,0.8,1],"format":"~g","title":null}}},
 "layer":[{"data":{"name":"o4"},"mark":{"type":"line","color":"black","strokeWidth":1.2,"clip":true}},{"data":{"name":"m4"},"mark":{"type":"line","color":"red","strokeWidth":0.9,"clip":true,"interpolate":"monotone"}}]},
{"width":111,"height":64,
 "encoding":{"x":{"field":"f","type":"quantitative","scale":{"domain":[215.4869,215.5475],"nice":false,"zero":false},"axis":{"values":[215.4875,215.5,215.5125,215.525,215.5375],"labelExpr":"indexof([215.5,215.525], datum.value) >= 0 ? datum.label : ''","format":".6~g","title":null}},
  "y":{"field":"T","type":"quantitative","scale":{"domain":[-0.15,1.52],"nice":false,"zero":false},"axis":{"values":[0,0.5,1,1.5],"format":"~g","title":null}}},
 "layer":[{"data":{"name":"o5"},"mark":{"type":"line","color":"black","strokeWidth":1.2,"clip":true}},{"data":{"name":"m5"},"mark":{"type":"line","color":"red","strokeWidth":0.9,"clip":true,"interpolate":"monotone"}}]},
{"width":111,"height":64,
 "encoding":{"x":{"field":"f","type":"quantitative","scale":{"domain":[215.562,215.6223],"nice":false,"zero":false},"axis":{"values":[215.5625,215.575,215.5875,215.6,215.6125],"labelExpr":"indexof([215.575,215.6], datum.value) >= 0 ? datum.label : ''","format":".6~g","title":null}},
  "y":{"field":"T","type":"quantitative","scale":{"domain":[-0.2,2.02],"nice":false,"zero":false},"axis":{"values":[0,0.5,1,1.5,2],"format":"~g","title":null}}},
 "layer":[{"data":{"name":"o6"},"mark":{"type":"line","color":"black","strokeWidth":1.2,"clip":true}},{"data":{"name":"m6"},"mark":{"type":"line","color":"red","strokeWidth":0.9,"clip":true,"interpolate":"monotone"}}]},
{"width":111,"height":64,
 "encoding":{"x":{"field":"f","type":"quantitative","scale":{"domain":[215.6197,215.6805],"nice":false,"zero":false},"axis":{"values":[215.625,215.6375,215.65,215.6625,215.675],"labelExpr":"indexof([215.625,215.65,215.675], datum.value) >= 0 ? datum.label : ''","format":".6~g","title":null}},
  "y":{"field":"T","type":"quantitative","scale":{"domain":[-0.22,2.02],"nice":false,"zero":false},"axis":{"values":[0,0.5,1,1.5,2],"format":"~g","title":null}}},
 "layer":[{"data":{"name":"o7"},"mark":{"type":"line","color":"black","strokeWidth":1.2,"clip":true}},{"data":{"name":"m7"},"mark":{"type":"line","color":"red","strokeWidth":0.9,"clip":true,"interpolate":"monotone"}},
  {"data":{"name":"arrowShaft"},"mark":{"type":"rule","color":"#1030f0","strokeWidth":3.5},"encoding":{"x2":{"field":"f2"},"y2":{"field":"T2"}}},
  {"data":{"name":"arrowHead"},"mark":{"type":"point","shape":"triangle-up","filled":true,"opacity":1,"color":"#1030f0","size":110,"angle":237}}]},
{"width":111,"height":64,
 "encoding":{"x":{"field":"f","type":"quantitative","scale":{"domain":[216.0254,216.0861],"nice":false,"zero":false},"axis":{"values":[216.0375,216.05,216.0625,216.075],"labelExpr":"indexof([216.05,216.075], datum.value) >= 0 ? datum.label : ''","format":".6~g","title":null}},
  "y":{"field":"T","type":"quantitative","scale":{"domain":[-0.16,1.52],"nice":false,"zero":false},"axis":{"values":[0,0.5,1,1.5],"format":"~g","title":null}}},
 "layer":[{"data":{"name":"o8"},"mark":{"type":"line","color":"black","strokeWidth":1.2,"clip":true}},{"data":{"name":"m8"},"mark":{"type":"line","color":"red","strokeWidth":0.9,"clip":true,"interpolate":"monotone"}}]},
{"width":111,"height":64,
 "encoding":{"x":{"field":"f","type":"quantitative","scale":{"domain":[216.9779,217.0377],"nice":false,"zero":false},"axis":{"values":[216.9875,217,217.0125,217.025],"labelExpr":"indexof([217,217.025], datum.value) >= 0 ? datum.label : ''","format":".6~g","title":null}},
  "y":{"field":"T","type":"quantitative","scale":{"domain":[-0.09,0.96],"nice":false,"zero":false},"axis":{"values":[0,0.2,0.4,0.6,0.8],"format":"~g","title":null}}},
 "layer":[{"data":{"name":"o9"},"mark":{"type":"line","color":"black","strokeWidth":1.2,"clip":true}},{"data":{"name":"m9"},"mark":{"type":"line","color":"red","strokeWidth":0.9,"clip":true,"interpolate":"monotone"}}]},
{"width":111,"height":64,
 "encoding":{"x":{"field":"f","type":"quantitative","scale":{"domain":[217.9098,217.9714],"nice":false,"zero":false},"axis":{"values":[217.9125,217.925,217.9375,217.95,217.9625],"labelExpr":"indexof([217.925,217.95], datum.value) >= 0 ? datum.label : ''","format":".6~g","title":null}},
  "y":{"field":"T","type":"quantitative","scale":{"domain":[-0.23,2.5],"nice":false,"zero":false},"axis":{"values":[0,0.5,1,1.5,2,2.5],"format":"~g","title":null}}},
 "layer":[{"data":{"name":"o10"},"mark":{"type":"line","color":"black","strokeWidth":1.2,"clip":true}},{"data":{"name":"m10"},"mark":{"type":"line","color":"red","strokeWidth":0.9,"clip":true,"interpolate":"monotone"}}]},
{"width":111,"height":64,
 "encoding":{"x":{"field":"f","type":"quantitative","scale":{"domain":[219.8638,219.9249],"nice":false,"zero":false},"axis":{"values":[219.875,219.8875,219.9,219.9125],"labelExpr":"indexof([219.875,219.9], datum.value) >= 0 ? datum.label : ''","format":".6~g","title":null}},
  "y":{"field":"T","type":"quantitative","scale":{"domain":[-0.1,0.95],"nice":false,"zero":false},"axis":{"values":[0,0.2,0.4,0.6,0.8],"format":"~g","title":null}}},
 "layer":[{"data":{"name":"o11"},"mark":{"type":"line","color":"black","strokeWidth":1.2,"clip":true}},{"data":{"name":"m11"},"mark":{"type":"line","color":"red","strokeWidth":0.9,"clip":true,"interpolate":"monotone"}}]},
{"width":111,"height":64,
 "encoding":{"x":{"field":"f","type":"quantitative","scale":{"domain":[224.0773,224.1364],"nice":false,"zero":false},"axis":{"values":[224.085,224.1,224.115,224.13],"labelExpr":"indexof([224.1,224.13], datum.value) >= 0 ? datum.label : ''","format":".6~g","title":null}},
  "y":{"field":"T","type":"quantitative","scale":{"domain":[-0.23,2.08],"nice":false,"zero":false},"axis":{"values":[0,0.5,1,1.5,2],"format":"~g","title":null}}},
 "layer":[{"data":{"name":"o12"},"mark":{"type":"line","color":"black","strokeWidth":1.2,"clip":true}},{"data":{"name":"m12"},"mark":{"type":"line","color":"red","strokeWidth":0.9,"clip":true,"interpolate":"monotone"}}]},
{"width":111,"height":64,
 "encoding":{"x":{"field":"f","type":"quantitative","scale":{"domain":[242.1426,242.1998],"nice":false,"zero":false},"axis":{"values":[242.145,242.16,242.175,242.19],"labelExpr":"indexof([242.16,242.19], datum.value) >= 0 ? datum.label : ''","format":".6~g","title":"Frequency (GHz)","titleX":134,"titleY":21,"titleBaseline":"middle","titleAlign":"center"}},
  "y":{"field":"T","type":"quantitative","scale":{"domain":[-0.25,3.1],"nice":false,"zero":false},"axis":{"values":[0,1,2,3],"format":"~g","title":null}}},
 "layer":[{"data":{"name":"o13"},"mark":{"type":"line","color":"black","strokeWidth":1.2,"clip":true}},{"data":{"name":"m13"},"mark":{"type":"line","color":"red","strokeWidth":0.9,"clip":true,"interpolate":"monotone"}}]},
{"width":111,"height":64,
 "encoding":{"x":{"field":"f","type":"quantitative","scale":{"domain":[245.2371,245.2945],"nice":false,"zero":false},"axis":{"values":[245.25,245.265,245.28],"labelExpr":"indexof([245.25,245.28], datum.value) >= 0 ? datum.label : ''","format":".6~g","title":null}},
  "y":{"field":"T","type":"quantitative","scale":{"domain":[-0.25,3.1],"nice":false,"zero":false},"axis":{"values":[0,1,2,3],"format":"~g","title":null}}},
 "layer":[{"data":{"name":"o14"},"mark":{"type":"line","color":"black","strokeWidth":1.2,"clip":true}},{"data":{"name":"m14"},"mark":{"type":"line","color":"red","strokeWidth":0.9,"clip":true,"interpolate":"monotone"}}]}
]
}
